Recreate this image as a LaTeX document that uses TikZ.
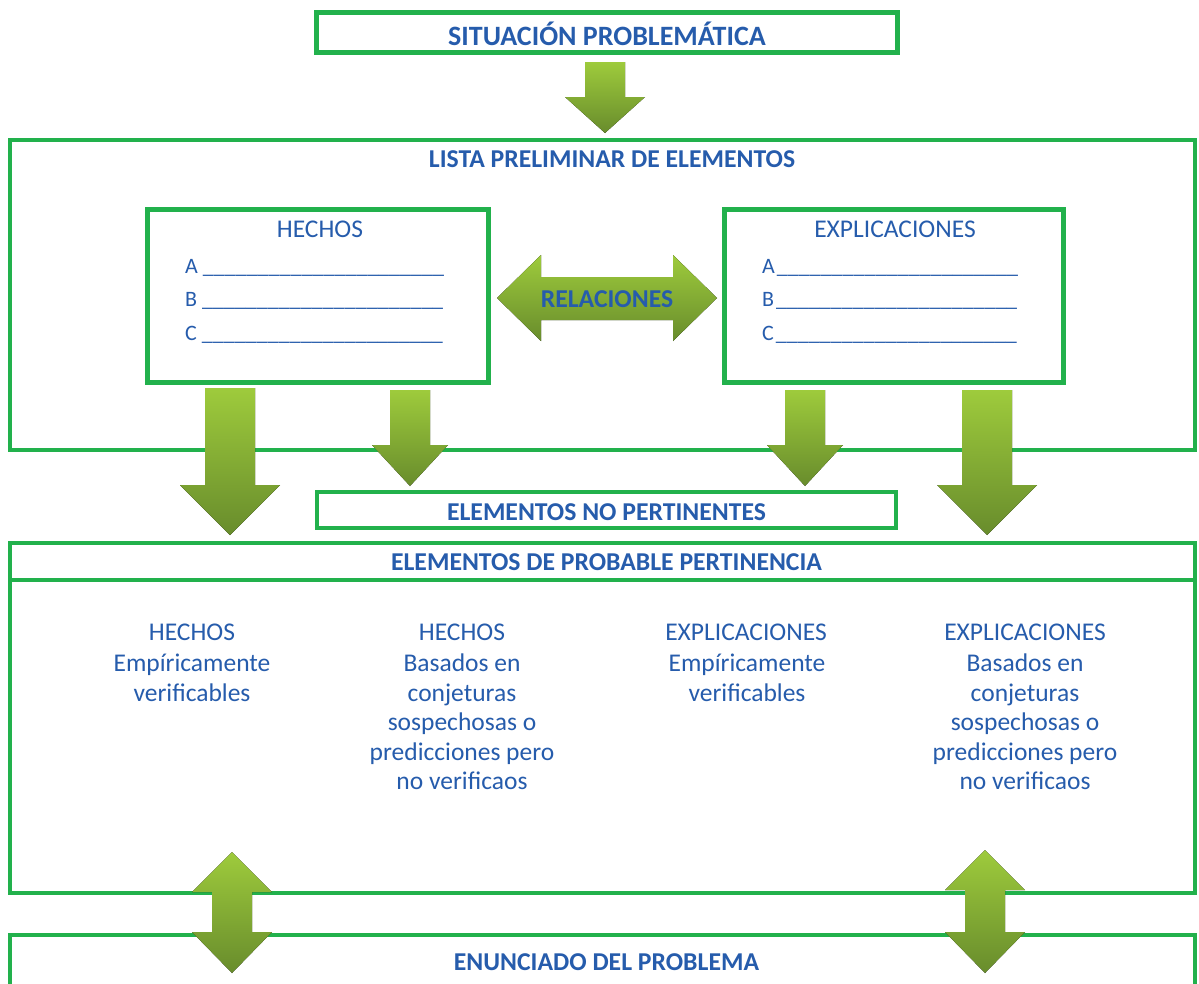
\documentclass[tikz,border=0pt]{standalone}
\usepackage{fontspec}
\setmainfont{Carlito}
\definecolor{frame}{RGB}{34,177,76}
\definecolor{ink}{RGB}{38,92,172}
\definecolor{arrtop}{RGB}{158,203,60}
\definecolor{arrbot}{RGB}{104,140,44}

\begin{document}
\begin{tikzpicture}[x=1pt,y=-1pt,
  box/.style={draw=frame,line width=5pt,fill=white,inner sep=0pt},
  thinbox/.style={draw=frame,line width=4pt,inner sep=0pt},
  head/.style={text=ink,font=\fontsize{25.7}{30}\selectfont\bfseries,inner sep=0pt},
  label/.style={text=ink,font=\fontsize{25.5}{30}\selectfont,inner sep=0pt},
  body/.style={text=ink,font=\fontsize{25.5}{29.4}\selectfont,align=center,inner sep=0pt,anchor=north},
  item/.style={text=ink,font=\fontsize{22}{26}\selectfont,inner sep=0pt,anchor=base west},
  blockarrow/.style={top color=arrtop,bottom color=arrbot,draw=none}]

\clip (0,0) rectangle (1199,983);
\fill[white] (0,0) rectangle (1199,983);

% --- boxes -------------------------------------------------------------
\node[box,minimum width=581pt,minimum height=40pt] (situacion) at (606.5,32) {};
\node[head,font=\fontsize{28}{32}\selectfont\bfseries] (situacionT) at (607,34) {SITUACIÓN PROBLEMÁTICA};

\draw[thinbox] (10,140) rectangle (1195,450);
\node[head] (lista) at (612,159) {LISTA PRELIMINAR DE ELEMENTOS};

\node[box,minimum width=341pt,minimum height=173pt] (hechos) at (318,295.5) {};
\node[label] (hechosT) at (320,229) {HECHOS};
\node[item] (hA) at (185,273) {A\hspace{5pt}\_\_\_\_\_\_\_\_\_\_\_\_\_\_\_\_\_\_\_\_\_\_};
\node[item] (hB) at (185,306) {B\hspace{5pt}\_\_\_\_\_\_\_\_\_\_\_\_\_\_\_\_\_\_\_\_\_\_};
\node[item] (hC) at (185,340) {C\hspace{5pt}\_\_\_\_\_\_\_\_\_\_\_\_\_\_\_\_\_\_\_\_\_\_};

\node[box,minimum width=339pt,minimum height=173pt] (explic) at (894,295.5) {};
\node[label] (explicT) at (895,229) {EXPLICACIONES};
\node[item] (eA) at (762,273) {A\hspace{2pt}\_\_\_\_\_\_\_\_\_\_\_\_\_\_\_\_\_\_\_\_\_\_};
\node[item] (eB) at (762,306) {B\hspace{2pt}\_\_\_\_\_\_\_\_\_\_\_\_\_\_\_\_\_\_\_\_\_\_};
\node[item] (eC) at (762,340) {C\hspace{2pt}\_\_\_\_\_\_\_\_\_\_\_\_\_\_\_\_\_\_\_\_\_\_};

\node[thinbox,minimum width=579pt,minimum height=36pt] (nopert) at (606.5,510) {};
\node[head] (nopertT) at (606.5,512) {ELEMENTOS NO PERTINENTES};

\draw[thinbox] (10,543) rectangle (1195,893);
\draw[thinbox] (10,580) -- (1195,580);
\node[head] (probT) at (606.5,562) {ELEMENTOS DE PROBABLE PERTINENCIA};

\draw[thinbox] (10,935) rectangle (1195,1010);
\node[head] (enunT) at (606.5,962) {ENUNCIADO DEL PROBLEMA};

% --- columns of the pertinence box -------------------------------------
\node[label] (c1h) at (192,632) {HECHOS};
\node[body] (c1b) at (192,654) {Empíricamente\\verificables};
\node[label] (c2h) at (462,632) {HECHOS};
\node[body] (c2b) at (462,654) {Basados en\\conjeturas\\sospechosas o\\predicciones pero\\no verificaos};
\node[label] (c3h) at (746,632) {EXPLICACIONES};
\node[body] (c3b) at (747,654) {Empíricamente\\verificables};
\node[label] (c4h) at (1025,632) {EXPLICACIONES};
\node[body] (c4b) at (1025,654) {Basados en\\conjeturas\\sospechosas o\\predicciones pero\\no verificaos};

% --- block arrows ------------------------------------------------------
% situation -> preliminary list
\fill[blockarrow] (585,62) -- (625,62) -- (625,97) -- (645,97) -- (605,133)
  -- (565,97) -- (585,97) -- cycle;
% relations between facts and explanations
\fill[blockarrow] (497,298) -- (541,255) -- (541,277) -- (673,277) -- (673,255)
  -- (717,298) -- (673,341) -- (673,320) -- (541,320) -- (541,341) -- cycle;
\node[head] (rel) at (607,299) {RELACIONES};
% four arrows out of the list
\fill[blockarrow] (205,388) -- (255,388) -- (255,485) -- (280,485) -- (230,535)
  -- (180,485) -- (205,485) -- cycle;
\fill[blockarrow] (390,390) -- (430,390) -- (430,445) -- (448,445) -- (410,486)
  -- (372,445) -- (390,445) -- cycle;
\fill[blockarrow] (785,390) -- (825,390) -- (825,445) -- (843,445) -- (805,486)
  -- (767,445) -- (785,445) -- cycle;
\fill[blockarrow] (962,390) -- (1012,390) -- (1012,485) -- (1037,485) -- (987,535)
  -- (937,485) -- (962,485) -- cycle;
% two-way arrows to the problem statement
\fill[blockarrow] (232,852) -- (272,892) -- (252,892) -- (252,932) -- (272,932)
  -- (232,973) -- (192,932) -- (212,932) -- (212,892) -- (192,892) -- cycle;
\fill[blockarrow] (985,850) -- (1025,890) -- (1005,890) -- (1005,932) -- (1025,932)
  -- (985,973) -- (945,932) -- (965,932) -- (965,890) -- (945,890) -- cycle;
\end{tikzpicture}
\end{document}
